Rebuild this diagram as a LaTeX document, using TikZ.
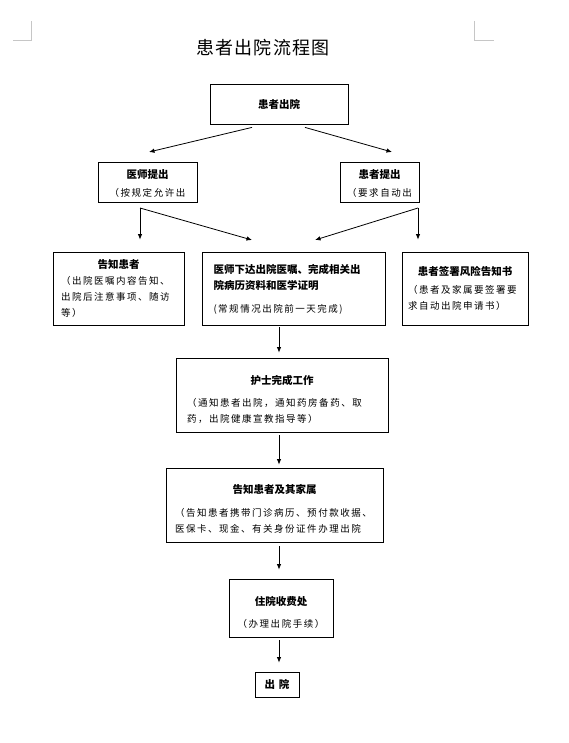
\documentclass[tikz,border=0pt]{standalone}
\usepackage{fontspec}
\setmainfont{Noto Sans CJK SC}
\newfontfamily\bodyfont[LetterSpace=16]{Noto Sans CJK SC}
\newfontfamily\titlefont[LetterSpace=6]{Noto Sans CJK SC}
\usetikzlibrary{arrows.meta}
\newcommand{\hdtext}[1]{{\rmfamily\fontsize{10.5}{13}\selectfont\bfseries #1}}
\newcommand{\hdline}[2]{\makebox[#1][c]{\hdtext{#2}}}

\begin{document}
\begin{tikzpicture}[x=1pt, y=-1pt, >={Latex[length=5.5pt,width=4.5pt]},
	box/.style={draw, line width=0.8pt, inner sep=0pt, font=\bodyfont\fontsize{9.5}{16}\selectfont},
	arr/.style={->, line width=0.8pt},
	cornermark/.style={draw=gray!45, line width=0.6pt}]
	
	\useasboundingbox (0,0) rectangle (568,743);
	
	% 页角标记
	\draw[cornermark] (13,40) -- (31,40) -- (31,21);
	\draw[cornermark] (474,21) -- (474,40) -- (494,40);
	
	% 标题
	\node[font=\titlefont\fontsize{18}{20}\selectfont] (title) at (263,48) {患者出院流程图};
	
	% 第一层：患者出院
	\node[box, minimum width=138pt, minimum height=40pt] (discharge) at (279,104) {\hdtext{患者出院}};
	
	% 第二层：医师提出、患者提出
	\node[box, minimum width=99pt, minimum height=40pt, align=center] (doctor) at (147.5,182)
		{\hdtext{\rule{0pt}{11pt}医师提出}\\[2pt]（按规定允许出};
	\node[box, minimum width=79pt, minimum height=40pt, align=center] (patient) at (379.5,182)
		{\hdtext{\rule{0pt}{11pt}患者提出}\\[2pt]（要求自动出};
	
	% 第三层：三个并列的方框
	\node[box, minimum width=131pt, minimum height=73pt, text width=115pt, align=left] (tellpt) at (118.5,288.5)
		{\hdline{115pt}{告知患者}\\（出院医嘱内容告知、\\出院后注意事项、随访\\等）};
	\node[box, minimum width=183pt, minimum height=73pt, text width=160pt, align=left] (order) at (293.5,288.5)
		{\hdtext{\rule{0pt}{11pt}医师下达出院医嘱、完成相关出}\\\hdtext{院病历资料和医学证明}\\[7pt](常规情况出院前一天完成)};
	\node[box, minimum width=126pt, minimum height=73pt, text width=114pt, align=left] (risk) at (465,288.5)
		{\hdline{114pt}{患者签署风险告知书}\\[2pt]（患者及家属要签署要\\求自动出院申请书）};
	
	% 护士完成工作
	\node[box, minimum width=212pt, minimum height=74pt, text width=190pt, align=left] (nurse) at (282,395)
		{\hdline{190pt}{\rule{0pt}{18pt}护士完成工作}\\[6pt]（通知患者出院，通知药房备药、取\\药，出院健康宣教指导等）};
	
	% 告知患者及其家属
	\node[box, minimum width=217pt, minimum height=74pt, text width=199pt, align=left] (family) at (274.5,505)
		{\hdline{199pt}{\rule{0pt}{17pt}告知患者及其家属}\\[7pt]（告知患者携带门诊病历、预付款收据、\\医保卡、现金、有关身份证件办理出院};
	
	% 住院收费处
	\node[box, minimum width=104pt, minimum height=58pt, align=center] (cashier) at (281,608)
		{\hdtext{\rule{0pt}{18pt}住院收费处}\\[6pt]（办理出院手续）};
	
	% 出院
	\node[box, minimum width=44pt, minimum height=25pt] (out) at (277,684.5) {\hdtext{出\hspace{4pt}院}};
	
	% 从患者出院分出的两条箭头
	\coordinate (ltip) at (149,152);
	\coordinate (rtip) at (392,152);
	\draw[arr] ([xshift=-27pt, yshift=-3pt]discharge.south) -- (ltip);
	\draw[arr] ([xshift=26pt, yshift=-3pt]discharge.south) -- (rtip);
	
	% 第二层到第三层的分叉箭头
	\coordinate (lfork) at (140,208);
	\coordinate (rfork) at (418,208);
	\coordinate (lmid) at (252,240);
	\coordinate (rmid) at (315,240);
	\draw[arr, shorten >=12pt] (lfork) -- (lfork |- tellpt.north);
	\draw[arr] (lfork) -- (lmid);
	\draw[arr, shorten >=12pt] (rfork) -- (rfork |- risk.north);
	\draw[arr] (rfork) -- (rmid);
	
	% 中间一列的竖直箭头
	\coordinate (spine) at (279,0);
	\foreach \a/\b/\s/\g in {order/nurse/2/5, nurse/family/3/3, family/cashier/4/9, cashier/out/3/9} {
		\draw[arr, shorten <=\s pt, shorten >=\g pt] (\a.south -| spine) -- (\b.north -| spine);
	}
	
\end{tikzpicture}
\end{document}
